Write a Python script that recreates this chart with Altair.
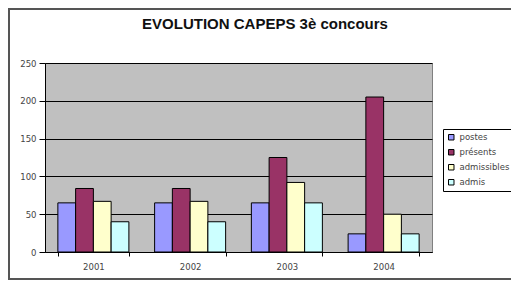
import altair as alt
import pandas as pd

years = ["2001", "2002", "2003", "2004"]
series = ["postes", "présents", "admissibles", "admis"]
postes = [65, 65, 65, 24]
presents = [84, 84, 125, 205]
admissibles = [67, 67, 92, 50]
admis = [40, 40, 65, 24]
colors = ["#9999FF", "#993366", "#FFFFCC", "#CCFFFF"]
y_ticks = [0, 50, 100, 150, 200, 250]
title_text = ["EVOLUTION CAPEPS 3è concours"]

rows = []
for name, vals in zip(series, [postes, presents, admissibles, admis]):
    for yr, v in zip(years, vals):
        rows.append({"year": yr, "series": name, "value": v})
df = pd.DataFrame(rows)

FONT = "Liberation Sans"
SMALL = "DejaVu Sans"

bars = alt.Chart(df).mark_bar(stroke="black", strokeWidth=1).encode(
    x=alt.X("year:N", sort=years,
            scale=alt.Scale(paddingInner=0.266, paddingOuter=0.133),
            axis=alt.Axis(title=None, labelAngle=0, tickBand="extent", tickSize=4,
                          tickColor="black", domainColor="black", labelFontSize=8.5,
                          labelColor="#444444", labelPadding=6, labelFont=SMALL)),
    xOffset=alt.XOffset("series:N", sort=series,
                        scale=alt.Scale(paddingInner=0, paddingOuter=0)),
    y=alt.Y("value:Q", scale=alt.Scale(domain=[0, 250]),
            axis=alt.Axis(title=None, values=y_ticks, grid=True, gridColor="black",
                          gridOpacity=1, gridWidth=1, tickSize=6, tickColor="black",
                          domainColor="black", labelFontSize=8.5, labelColor="#444444",
                          labelPadding=3, labelFont=SMALL)),
    color=alt.Color("series:N", sort=series,
                    scale=alt.Scale(domain=series, range=colors),
                    legend=alt.Legend(title=None, orient="none", legendX=398, legendY=66,
                                      padding=4, strokeColor="black", fillColor="white",
                                      labelFontSize=8.5, labelFont=SMALL, labelColor="#444444",
                                      symbolType="square", symbolSize=30,
                                      symbolStrokeColor="black", symbolStrokeWidth=1,
                                      rowPadding=5, labelOffset=4)),
)

title = alt.Chart(pd.DataFrame({"t": title_text})).mark_text(
    font=FONT, fontSize=15, fontWeight="bold", color="#111111", align="center", baseline="middle"
).encode(text="t:N", x=alt.value(220), y=alt.value(-39))

frame = alt.Chart(pd.DataFrame({"t": title_text})).mark_rect(
    fill=None, stroke="#555555", strokeWidth=2
).encode(x=alt.value(-36), x2=alt.value(480), y=alt.value(-54), y2=alt.value(216))

chart = alt.layer(frame, bars, title).properties(
    width=387, height=189,
    padding={"left": 37, "top": 55, "right": 79, "bottom": 28},
    autosize=alt.AutoSizeParams(type="none"),
    background="white",
).configure_view(fill="#C0C0C0", stroke="#808080")

chart.save("out.html", embed_options={"renderer": "svg", "actions": False})
